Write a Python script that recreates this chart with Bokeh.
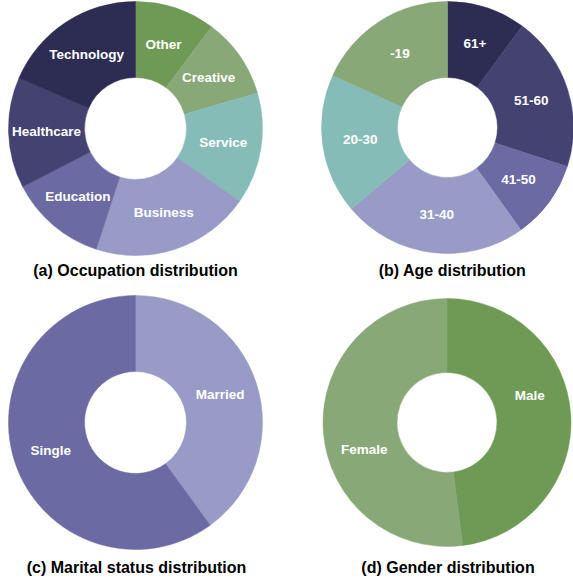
import numpy as np
from bokeh.plotting import figure
from bokeh.models import Range1d, ColumnDataSource
from bokeh.core.properties import value
from bokeh.embed import file_html
from bokeh.resources import INLINE

# ---- data (shares in %, clockwise from 12 o'clock) ----
occ_labels = ["Other", "Creative", "Service", "Business", "Education", "Healthcare", "Technology"]
occ_values = [10.2, 10.3, 14.2, 20.3, 12.4, 14.1, 18.5]
occ_colors = ["#6f9a55", "#88a878", "#86bcb8", "#979bc6", "#6b6aa2", "#444270", "#2d2d54"]

age_labels = ["61+", "51-60", "41-50", "31-40", "20-30", "-19"]
age_values = [10.1, 19.9, 10.1, 23.7, 18.0, 18.2]
age_colors = ["#2d2d54", "#444270", "#6b6aa2", "#979bc6", "#86bcb8", "#88a878"]

mar_labels = ["Married", "Single"]
mar_values = [40.0, 60.0]
mar_colors = ["#979bc6", "#6b6aa2"]

gen_labels = ["Male", "Female"]
gen_values = [48.0, 52.0]
gen_colors = ["#6f9a55", "#88a878"]

titles = ["(a) Occupation distribution", "(b) Age distribution",
          "(c) Marital status distribution", "(d) Gender distribution"]

W, H = 573, 583

p = figure(width=W, height=H, output_backend="svg", toolbar_location=None,
           x_range=Range1d(0, W), y_range=Range1d(0, H),
           min_border=0)
p.axis.visible = False
p.grid.visible = False
p.outline_line_color = None
p.background_fill_color = "white"

# (labels, values, colors, values used for label placement, cx, cy, r_out, r_in, title, tx, ty)
panels = [
    (occ_labels, occ_values, occ_colors, occ_values, 135, 128, 127, 51, titles[0], 135, 270),
    (age_labels, age_values, age_colors, age_values, 447, 127, 126, 50, titles[1], 452, 270),
    (mar_labels, mar_values, mar_colors, mar_values, 135, 422, 127, 51, titles[2], 136, 567),
    # the original places the gender labels at the marital-status label spots
    (gen_labels, gen_values, gen_colors, mar_values, 446.5, 422, 124, 50, titles[3], 447.5, 567),
]


def cumul(vals):
    v = np.array(vals, dtype=float)
    frac = v / v.sum() * 2 * np.pi
    return np.concatenate([[0], np.cumsum(frac)])


for labels, vals, cols, lvals, cx, cy, r_out, r_in, title, tx, ty in panels:
    cum = cumul(vals)
    lcum = cumul(lvals)
    # clockwise from top -> standard angle
    start = np.pi / 2 - cum[1:]
    end = np.pi / 2 - cum[:-1]
    mid = np.pi / 2 - (lcum[:-1] + lcum[1:]) / 2
    yc = H - cy
    n = len(vals)
    src = ColumnDataSource(dict(
        x=[cx] * n, y=[yc] * n, start=start, end=end, color=cols,
        lx=cx + (r_in + r_out) / 2 * np.cos(mid),
        ly=yc + (r_in + r_out) / 2 * np.sin(mid),
        label=labels))
    p.annular_wedge(x="x", y="y", inner_radius=r_in, outer_radius=r_out,
                    start_angle="start", end_angle="end", fill_color="color",
                    line_color="color", line_width=0.5, source=src)
    p.text(x="lx", y="ly", text="label", source=src, text_color="white",
           text_font=value("Liberation Sans"), text_font_style="bold",
           text_font_size="13.5px", text_align="center", text_baseline="middle")
    p.text(x=[tx], y=[H - ty], text=[title], text_color="black",
           text_font=value("Liberation Sans"), text_font_style="bold",
           text_font_size="16px", text_align="center", text_baseline="middle")

open("out.html", "w").write(file_html(p, INLINE))
